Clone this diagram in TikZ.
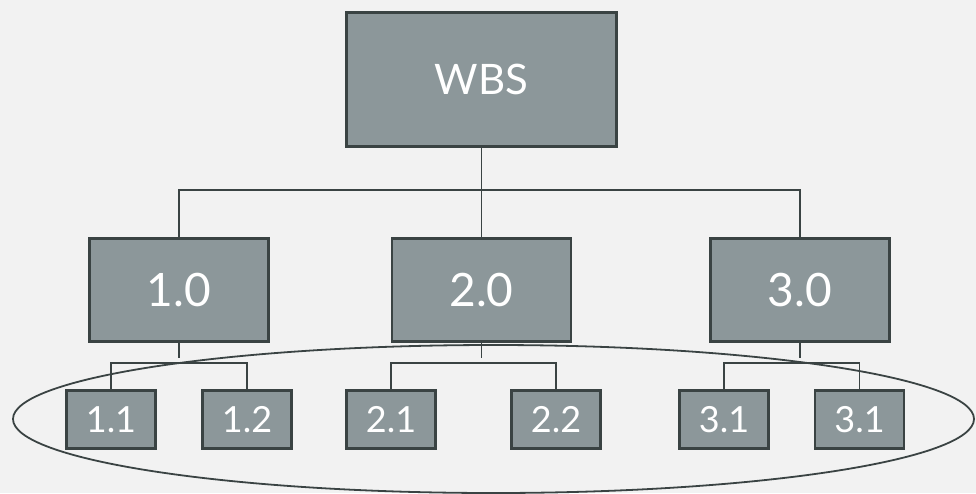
\documentclass[tikz,border=0pt]{standalone}
\usepackage{fontspec}
\setmainfont{Lato}
\definecolor{wbsfill}{HTML}{8C979A}
\definecolor{wbsline}{HTML}{3A4343}
\definecolor{wbsback}{HTML}{F2F2F2}
\tikzset{
    wbsbox/.style={draw=wbsline, fill=wbsfill, line width=2.5pt, text=white, inner sep=0pt},
    topbox/.style={wbsbox, minimum width=270pt, minimum height=134pt, font=\fontsize{42}{48}\selectfont},
    midbox/.style={wbsbox, minimum width=179pt, minimum height=103pt, font=\fontsize{46}{52}\selectfont},
    subbox/.style={wbsbox, minimum width=89pt, minimum height=58pt, font=\fontsize{36}{42}\selectfont},
    link/.style={draw=wbsline, line width=1.3pt},
}
\begin{document}
\begin{tikzpicture}[x=1pt, y=-1pt]
    \useasboundingbox (0,0) rectangle (976,493);
    \fill[wbsback] (0,0) rectangle (976,493);

    \node[topbox] (wbs) at (481.5,79.5) {WBS};

    \node[midbox] (n1) at (179,290) {1.0};
    \node[midbox] (n2) at (481.5,290) {2.0};
    \node[midbox] (n3) at (800,290) {3.0};

    \node[subbox] (c11) at (111,419.5) {1.1};
    \node[subbox] (c12) at (247,419.5) {1.2};
    \node[subbox] (c21) at (391,419.5) {2.1};
    \node[subbox] (c22) at (556,419.5) {2.2};
    \node[subbox] (c31) at (724,419.5) {3.1};
    \node[subbox] (c32) at (859.5,419.5) {3.1};

    \coordinate (bar) at (0,190);
    \coordinate (stub) at (0,358);
    \coordinate (fork) at (0,363);

    \draw[link] (wbs.south) -- (wbs.south |- bar);
    \draw[link] (n1.north) -- (n1.north |- bar) -- (n3.north |- bar) -- (n3.north);
    \draw[link] (n2.north) -- (n2.north |- bar);

    \draw[link] (n1.south) -- (n1.south |- stub);
    \draw[link] (c11.north) -- (c11.north |- fork) -- (c12.north |- fork) -- (c12.north);

    \draw[link] (n2.south) -- (n2.south |- stub);
    \draw[link] (c21.north) -- (c21.north |- fork) -- (c22.north |- fork) -- (c22.north);

    \draw[link] (n3.south) -- (n3.south |- stub);
    \draw[link] (c31.north) -- (c31.north |- fork) -- (c32.north |- fork) -- (c32.north);

    \draw[wbsline, line width=1.8pt] (493.5,419) ellipse [x radius=480.5, y radius=74];
\end{tikzpicture}
\end{document}
